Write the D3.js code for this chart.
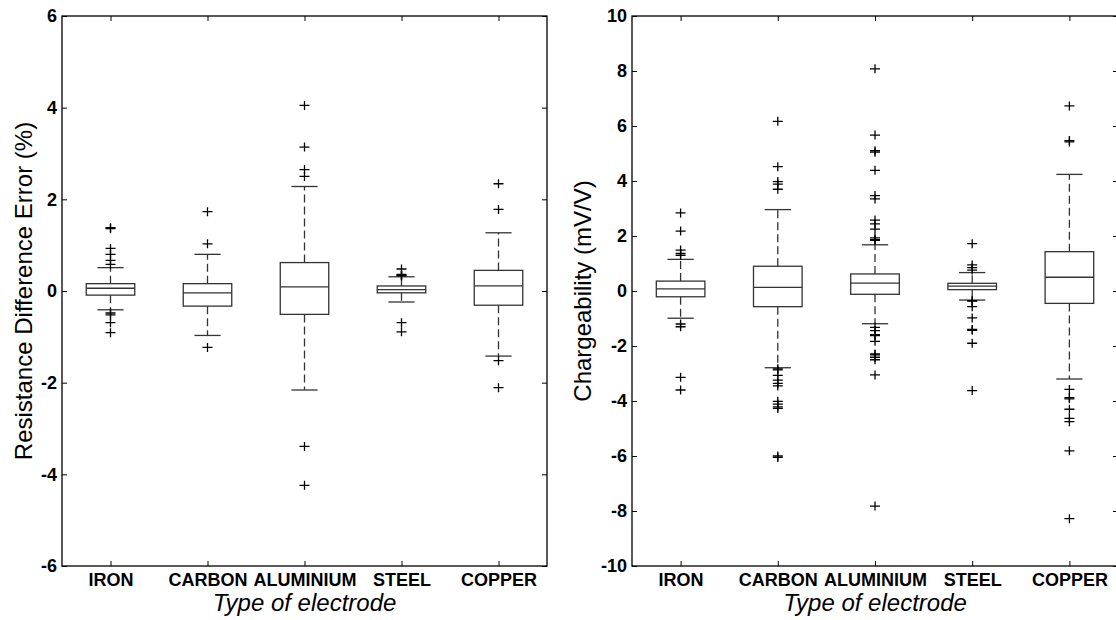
<!doctype html>
<html lang="en">
<head>
  <meta charset="utf-8">
  <title>Electrode boxplots</title>
  <style>
  body { margin: 0; background: #fff; }
  svg { font-family: "Liberation Sans", Arial, sans-serif; }
  .tick text { font-size: 18px; font-weight: bold; fill: #000; }
  .tick line { stroke: #000; }
  .box { fill: none; stroke: #333; stroke-width: 1.3; }
  .whisker { stroke: #333; stroke-width: 1.3; stroke-dasharray: 8,4; }
  .cap { stroke: #333; stroke-width: 1.3; }
  .outlier { fill: none; stroke: #000; stroke-width: 1.3; }
  .frame { fill: none; stroke: #000; stroke-width: 1.3; }
  .title { font-size: 24px; fill: #000; }
  </style>
</head>
<body>
  <div id="chart"></div>
  <script src="https://cdn.jsdelivr.net/npm/d3@7"></script>
  <script>
    // categories (same for both panels)
    var categories = ["IRON", "CARBON", "ALUMINIUM", "STEEL", "COPPER"];

    // left panel: resistance difference error (%)
    var resTicks = [-6, -4, -2, 0, 2, 4, 6];
    var resQ1 = [-0.09, -0.33, -0.51, -0.04, -0.31];
    var resMedian = [0.06, -0.04, 0.09, 0.03, 0.11];
    var resQ3 = [0.16, 0.16, 0.62, 0.11, 0.45];
    var resLow = [-0.41, -0.97, -2.16, -0.24, -1.42];
    var resHigh = [0.51, 0.80, 2.28, 0.31, 1.27];
    var resOutliers = [
      [1.38, 1.36, 0.93, 0.80, 0.67, 0.58, -0.48, -0.52, -0.69, -0.91],
      [1.73, 1.03, -1.23],
      [4.05, 3.14, 2.65, 2.50, -3.39, -4.24],
      [0.48, 0.36, 0.34, 0.33, -0.69, -0.89],
      [2.34, 1.78, -1.52, -2.11]
    ];

    // right panel: chargeability (mV/V)
    var chgTicks = [-10, -8, -6, -4, -2, 0, 2, 4, 6, 8, 10];
    var chgQ1 = [-0.21, -0.57, -0.12, 0.05, -0.45];
    var chgMedian = [0.08, 0.13, 0.29, 0.18, 0.50];
    var chgQ3 = [0.36, 0.90, 0.62, 0.28, 1.43];
    var chgLow = [-0.99, -2.79, -1.19, -0.33, -3.20];
    var chgHigh = [1.15, 2.96, 1.68, 0.67, 4.24];
    var chgOutliers = [
      [2.84, 2.18, 1.49, 1.37, 1.30, -1.20, -1.30, -3.14, -3.60],
      [6.17, 4.52, 3.98, 3.89, 3.70, -2.83, -2.87, -3.07, -3.24, -3.36, -3.45,
       -4.01, -4.11, -4.21, -4.27, -6.00, -6.05],
      [8.08, 5.67, 5.05, 5.10, 4.39, 3.47, 3.35, 2.58, 2.44, 2.25, 1.93, 1.87, 1.84,
       -1.32, -1.44, -1.59, -1.62, -1.83, -2.29, -2.32, -2.41, -2.50, -3.05, -7.82],
      [1.72, 0.95, 0.85, 0.76, -0.35, -0.37, -0.57, -0.98, -1.40, -1.43, -1.90, -3.62],
      [6.73, 5.42, 5.47, -3.58, -3.88, -3.92, -4.30, -4.63, -4.75, -5.81, -8.28]
    ];

    (function(){

      var width = 1116;
      var height = 620;
      var top = 16, bottom = 566;

      var svg = d3.select("#chart")
          .append("svg")
          .attr("width", width)
          .attr("height", height);

      var drawPanel = function(opts) {
        var x = d3.scaleLinear().domain([0.5, 5.5]).range([opts.left, opts.right]);
        var y = d3.scaleLinear().domain(opts.domain).range([bottom, top]);
        var g = svg.append("g");

        var rows = categories.map(function(c, i) {
          return {i: i + 1, q1: opts.q1[i], med: opts.median[i], q3: opts.q3[i],
                  lo: opts.low[i], hi: opts.high[i], out: opts.outliers[i]};
        });

        var box = g.selectAll(".bp").data(rows).enter().append("g").attr("class", "bp");

        // whiskers
        box.append("line").attr("class", "whisker")
          .attr("x1", function(d) { return x(d.i); }).attr("x2", function(d) { return x(d.i); })
          .attr("y1", function(d) { return y(d.q3); }).attr("y2", function(d) { return y(d.hi); });
        box.append("line").attr("class", "whisker")
          .attr("x1", function(d) { return x(d.i); }).attr("x2", function(d) { return x(d.i); })
          .attr("y1", function(d) { return y(d.q1); }).attr("y2", function(d) { return y(d.lo); });

        // caps
        ["hi", "lo"].forEach(function(k) {
          box.append("line").attr("class", "cap")
            .attr("x1", function(d) { return x(d.i - 0.135); })
            .attr("x2", function(d) { return x(d.i + 0.135); })
            .attr("y1", function(d) { return y(d[k]); })
            .attr("y2", function(d) { return y(d[k]); });
        });

        // box + median
        box.append("rect").attr("class", "box")
          .attr("x", function(d) { return x(d.i - 0.25); })
          .attr("width", function(d) { return x(d.i + 0.25) - x(d.i - 0.25); })
          .attr("y", function(d) { return y(d.q3); })
          .attr("height", function(d) { return y(d.q1) - y(d.q3); })
          .attr("fill", "#fff");
        box.append("line").attr("class", "cap")
          .attr("x1", function(d) { return x(d.i - 0.25); })
          .attr("x2", function(d) { return x(d.i + 0.25); })
          .attr("y1", function(d) { return y(d.med); })
          .attr("y2", function(d) { return y(d.med); });

        // outliers as '+'
        box.selectAll(".outlier")
          .data(function(d) { return d.out.map(function(v) { return {i: d.i, v: v}; }); })
          .enter().append("path")
          .attr("class", "outlier")
          .attr("d", "M-5,0H5M0,-4.5V4.5")
          .attr("transform", function(d) { return "translate(" + x(d.i) + "," + y(d.v) + ")"; });

        // frame
        g.append("rect").attr("class", "frame")
          .attr("x", opts.left).attr("y", top)
          .attr("width", opts.right - opts.left).attr("height", bottom - top);

        // axes, MATLAB style inward ticks, plain hyphen minus
        var yl = g.append("g").attr("transform", "translate(" + opts.left + ",0)")
          .call(d3.axisLeft(y).tickValues(opts.ticks).tickSizeInner(-5).tickSizeOuter(0).tickPadding(5)
            .tickFormat(function(d) { return String(d); }));
        var yr = g.append("g").attr("transform", "translate(" + opts.right + ",0)")
          .call(d3.axisRight(y).tickValues(opts.ticks).tickSizeInner(-5).tickSizeOuter(0).tickFormat(""));
        var xb = g.append("g").attr("transform", "translate(0," + bottom + ")")
          .call(d3.axisBottom(x).tickValues([1, 2, 3, 4, 5]).tickSizeInner(-5).tickSizeOuter(0)
            .tickPadding(7).tickFormat(function(d) { return categories[d - 1]; }));
        var xt = g.append("g").attr("transform", "translate(0," + top + ")")
          .call(d3.axisTop(x).tickValues([1, 2, 3, 4, 5]).tickSizeInner(-5).tickSizeOuter(0).tickFormat(""));
        [yl, yr, xb, xt].forEach(function(a) {
          a.select(".domain").remove();
          a.selectAll("text").attr("font-family", null).attr("font-size", null);
        });

        // titles
        g.append("text").attr("class", "title")
          .attr("transform", "translate(" + opts.titleX + "," + (top + bottom) / 2 + ") rotate(-90)")
          .attr("text-anchor", "middle")
          .text(opts.yTitle);
        g.append("text").attr("class", "title")
          .attr("x", (opts.left + opts.right) / 2).attr("y", 611)
          .attr("text-anchor", "middle")
          .attr("font-style", "italic")
          .text("Type of electrode");
      };

      drawPanel({left: 62, right: 547, domain: [-6, 6], ticks: resTicks,
        q1: resQ1, median: resMedian, q3: resQ3, low: resLow, high: resHigh,
        outliers: resOutliers, titleX: 32, yTitle: "Resistance Difference Error (%)"});

      drawPanel({left: 632, right: 1118, domain: [-10, 10], ticks: chgTicks,
        q1: chgQ1, median: chgMedian, q3: chgQ3, low: chgLow, high: chgHigh,
        outliers: chgOutliers, titleX: 591, yTitle: "Chargeability (mV/V)"});

    })();
  </script>
</body>
</html>
